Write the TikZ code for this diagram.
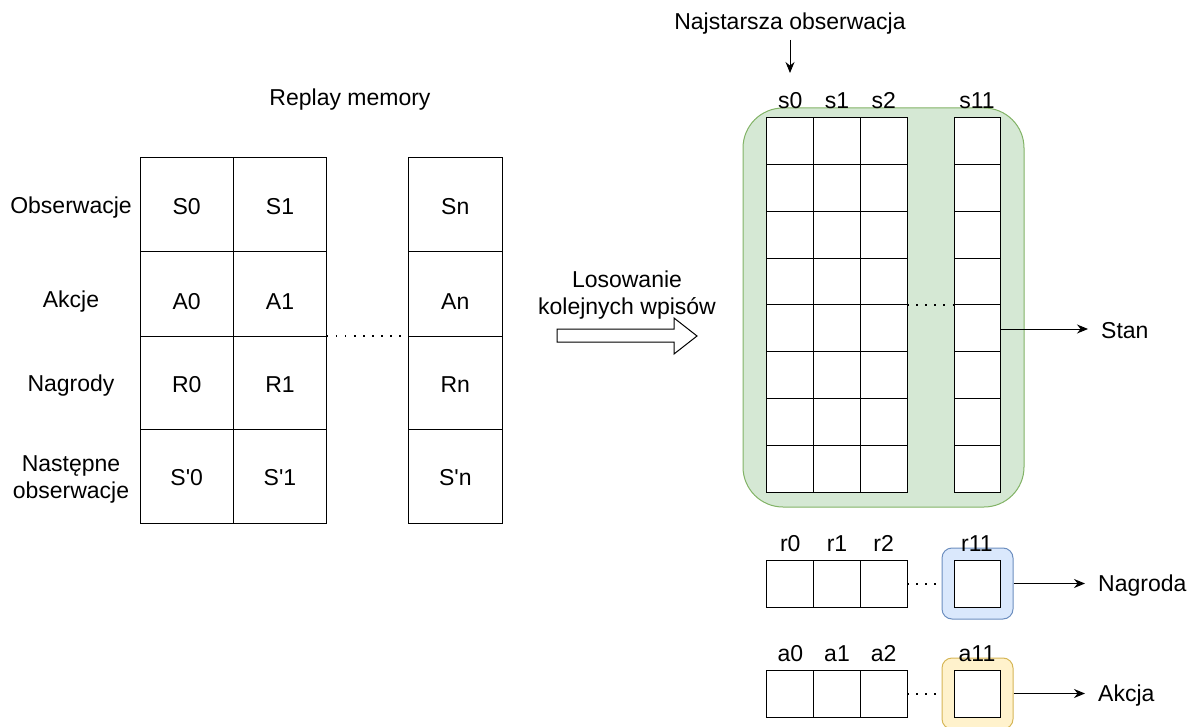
\documentclass[tikz,border=0pt]{standalone}
\usepackage{fontspec}
\setmainfont{Liberation Sans}
\usetikzlibrary{arrows.meta}
\definecolor{gfill}{HTML}{D5E8D4}
\definecolor{gline}{HTML}{82B366}
\definecolor{bfill}{HTML}{DAE8FC}
\definecolor{bline}{HTML}{6C8EBF}
\definecolor{yfill}{HTML}{FFF2CC}
\definecolor{yline}{HTML}{D6B656}
\begin{document}
\begin{tikzpicture}[x=1pt,y=-1pt,
  every node/.style={font=\fontsize{23}{28}\selectfont},
  cell/.style={draw, line width=1pt, fill=white, inner sep=0pt, outer sep=0pt},
  gcell/.style={cell, minimum width=46.67pt, minimum height=46.75pt},
  txt/.style={inner sep=0pt, align=center, yshift=-2pt},
  dots/.style={line width=2pt, dash pattern=on 1.6pt off 7.5pt},
  arr/.style={line width=1pt, -{Stealth[length=11pt,width=9pt]}},
  hl/.style={line width=1pt, rounded corners=10pt}]
\useasboundingbox (0,0) rectangle (1194,727);

% ---------- Replay memory ----------
\node[txt] (title) at (350,98) {Replay memory};

\node[txt] (lobs) at (71,206) {Obserwacje};
\node[txt] (lakc) at (71,300) {Akcje};
\node[txt] (lnag) at (71,384) {Nagrody};
\node[txt] (lnext) at (71,477) {Następne\\[-1pt]obserwacje};

\foreach \nm/\x/\w in {0/186.7/93.3, 1/280/93.3, n/455.3/94}{
  \node[cell, minimum width=\w pt, minimum height=94pt] (S\nm) at (\x,205) {};
  \node[cell, minimum width=\w pt, minimum height=84pt] (A\nm) at (\x,294) {};
  \node[cell, minimum width=\w pt, minimum height=93pt] (R\nm) at (\x,382.5) {};
  \node[cell, minimum width=\w pt, minimum height=94pt] (N\nm) at (\x,476) {};
  \node[txt] (tS\nm) at (S\nm.center) {S\nm};
  \node[txt] (tA\nm) at ([yshift=-6pt]A\nm.center) {A\nm};
  \node[txt] (tR\nm) at (R\nm.center) {R\nm};
  \node[txt] (tN\nm) at (N\nm.center) {S\textquotesingle\nm};
}
\draw[dots] (A1.south east) -- (An.south west);

% ---------- big arrow ----------
\node[txt] (los) at (627,293) {Losowanie\\[-1pt]kolejnych wpisów};
\draw[line width=1pt, fill=white] (557,329) -- (674,329) -- (674,318) -- (697,336)
  -- (674,354) -- (674,342) -- (557,342) -- cycle;

% ---------- state grid ----------
\node[draw=gline, fill=gfill, line width=1pt, rounded corners=40pt,
      minimum width=281pt, minimum height=399pt, inner sep=0pt] (gbox) at (883.5,307.5) {};

\foreach \r in {1,...,8}{
  \foreach \c/\x in {1/790.3, 2/837, 3/883.7}{
    \node[gcell] (g-\r-\c) at (\x,{118+46.75*(\r-1)+23.375}) {};
  }
  \node[gcell, minimum width=46pt] (g-\r-4) at (977,{118+46.75*(\r-1)+23.375}) {};
}
\draw[dots] (g-5-3.north east) -- (g-5-4.north west);

\foreach \c/\t in {1/s0, 2/s1, 3/s2, 4/s11}{
  \node[txt, anchor=base] (ls\c) at ([yshift=11pt]g-1-\c.north) {\t};
}

\node[txt] (old) at (790,22) {Najstarsza obserwacja};
\coordinate (oldtip) at (790,73);
\draw[arr] (790,40) -- (oldtip);

\node[txt, anchor=west] (stan) at (1101,329) {Stan};
\draw[arr] (g-5-4.south east |- 0,329) -- (1088,329);

% ---------- reward row ----------
\node[draw=bline, fill=bfill, hl, minimum width=71pt, minimum height=71pt, inner sep=0pt] (rbox) at (977.5,583.5) {};
\foreach \c/\x in {1/790.3, 2/837, 3/883.7}{
  \node[cell, minimum width=46.67pt, minimum height=47pt] (r\c) at (\x,583.5) {};
}
\node[cell, minimum width=46pt, minimum height=47pt] (r4) at (977,583.5) {};
\draw[dots] (r3.east) -- (rbox.west);
\foreach \c/\t in {1/r0, 2/r1, 3/r2, 4/r11}{
  \node[txt, anchor=base] (lr\c) at ([yshift=11pt]r\c.north) {\t};
}
\coordinate (nagtip) at (1085,583.5);
\draw[arr] (rbox.east) -- (nagtip);
\node[txt, anchor=west] (nag) at (1098,583.5) {Nagroda};

% ---------- action row ----------
\node[draw=yline, fill=yfill, hl, minimum width=71pt, minimum height=71pt, inner sep=0pt] (abox) at (977.5,693.5) {};
\foreach \c/\x in {1/790.3, 2/837, 3/883.7}{
  \node[cell, minimum width=46.67pt, minimum height=47pt] (a\c) at (\x,693.5) {};
}
\node[cell, minimum width=46pt, minimum height=47pt] (a4) at (977,693.5) {};
\draw[dots] (a3.east) -- (abox.west);
\foreach \c/\t in {1/a0, 2/a1, 3/a2, 4/a11}{
  \node[txt, anchor=base] (la\c) at ([yshift=11pt]a\c.north) {\t};
}
\coordinate (akctip) at (1085,693.5);
\draw[arr] (abox.east) -- (akctip);
\node[txt, anchor=west] (akc) at (1098,693.5) {Akcja};
\end{tikzpicture}
\end{document}
